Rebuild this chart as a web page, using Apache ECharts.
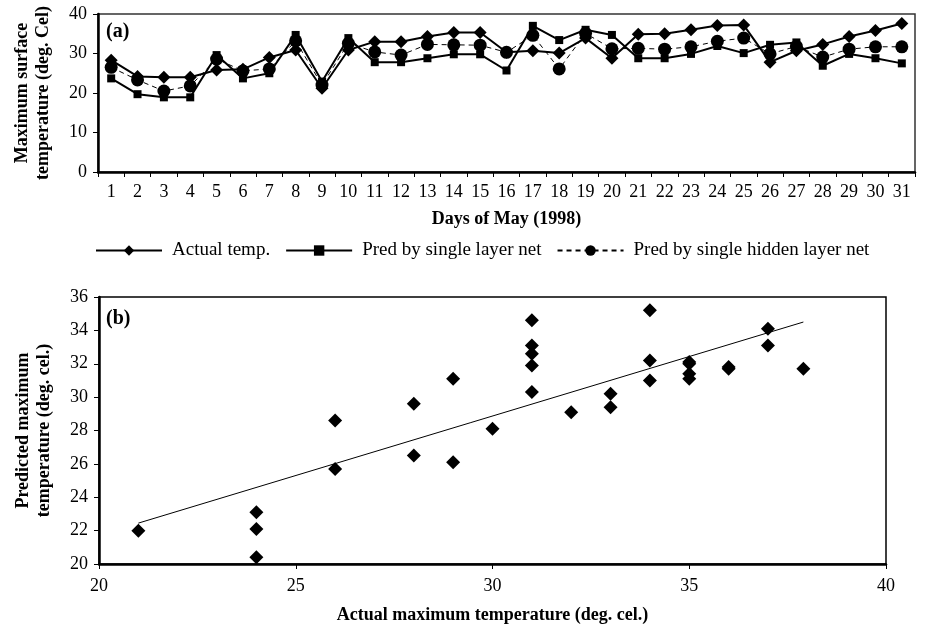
<!DOCTYPE html>
<html>
<head>
<meta charset="utf-8">
<script src="https://cdn.jsdelivr.net/npm/echarts@6/dist/echarts.min.js"></script>
<style>
  html, body { margin: 0; padding: 0; background: #fff; }
  #chart { width: 925px; height: 627px; }
</style>
</head>
<body>
<div id="chart"></div>
<script>
// Panel (a): daily maximum temperature, May 1998
const days = ['1','2','3','4','5','6','7','8','9','10','11','12','13','14','15','16',
  '17','18','19','20','21','22','23','24','25','26','27','28','29','30','31'];
const actualTemp = [28.3, 24.2, 24, 24, 25.8, 26, 29, 30.9, 21.2, 30.9, 33, 33, 34.3, 35.3, 35.3, 30.3,
  30.7, 30.1, 33.9, 28.8, 34.9, 35, 36, 37.1, 37.2, 27.8, 30.7, 32.3, 34.3, 35.8, 37.6];
const singleLayer = [23.7, 19.7, 18.9, 18.9, 29.6, 23.7, 25, 34.7, 22.9, 33.9, 27.8, 27.8, 28.8, 29.8, 29.8, 25.7,
  37, 33.4, 36, 34.7, 28.8, 28.8, 29.9, 31.9, 30.1, 32.2, 32.8, 26.9, 29.9, 28.8, 27.5];
const hiddenLayer = [26.5, 23.3, 20.5, 21.8, 28.6, 25.6, 26.1, 33.2, 22, 32.6, 30.4, 29.6, 32.3, 32.2, 32.1, 30.3,
  34.6, 26.1, 35.1, 31.2, 31.3, 31.1, 31.7, 33.1, 33.9, 29.9, 31.8, 29.1, 31.1, 31.7, 31.7];

// Panel (b): actual vs predicted scatter
const scatterActual = [21, 24, 24, 24, 26, 26, 28, 28, 29, 29, 30, 31, 31, 31, 31, 31,
  32, 33, 33, 34, 34, 34, 35, 35, 35, 35, 36, 36, 37, 37, 37.9];
const scatterPred = [22, 23.1, 22.1, 20.4, 28.6, 25.7, 29.6, 26.5, 31.1, 26.1, 28.1, 34.6, 33.1, 32.6, 31.9, 30.3,
  29.1, 30.2, 29.4, 35.2, 32.2, 31, 32.1, 32, 31.4, 31.1, 31.8, 31.7, 34.1, 33.1, 31.7];
const trendX = [21, 37.9];
const trendY = [22.45, 34.5];

const FONT = 'Liberation Serif';
const chart = echarts.init(document.getElementById('chart'));

const tickLabel = { color: '#000', fontFamily: FONT, fontSize: 18 };
const xNameStyle = { color: '#000', fontFamily: FONT, fontSize: 18, fontWeight: 'bold' };
const yNameStyle = { color: '#000', fontFamily: FONT, fontSize: 18, fontWeight: 'bold', lineHeight: 21 };

chart.setOption({
  animation: false,
  backgroundColor: '#fff',
  legend: {
    data: ['Actual temp.', 'Pred by single layer net', 'Pred by single hidden layer net'],
    left: 90,
    top: 236,
    itemWidth: 66,
    itemHeight: 13,
    itemGap: 15,
    textStyle: { color: '#000', fontFamily: FONT, fontSize: 19, padding: [0, 0, 0, 5] }
  },
  graphic: [
    { type: 'text', left: 106, top: 22, style: { text: '(a)', font: 'bold 20px ' + FONT, fill: '#000' } },
    { type: 'text', left: 106, top: 309, style: { text: '(b)', font: 'bold 20px ' + FONT, fill: '#000' } }
  ],
  grid: [
    { left: 98, right: 10, top: 14, height: 158, show: true, borderColor: '#333', borderWidth: 1.5 },
    { left: 99, right: 39, top: 297, height: 267, show: true, borderColor: '#000', borderWidth: 1.5 }
  ],
  xAxis: [
    {
      gridIndex: 0,
      type: 'category',
      data: days,
      boundaryGap: true,
      axisLine: { lineStyle: { color: '#000', width: 2.5 } },
      axisTick: { show: true, length: 5, lineStyle: { color: '#000' } },
      axisLabel: Object.assign({ margin: 11, interval: 0 }, tickLabel),
      name: 'Days of May (1998)',
      nameLocation: 'middle',
      nameGap: 38,
      nameTextStyle: xNameStyle
    },
    {
      gridIndex: 1,
      type: 'value',
      min: 20,
      max: 40,
      interval: 5,
      splitLine: { show: false },
      axisLine: { lineStyle: { color: '#000', width: 2.5 } },
      axisTick: { show: true, length: 5, lineStyle: { color: '#000' } },
      axisLabel: Object.assign({ margin: 13 }, tickLabel),
      name: 'Actual maximum temperature (deg. cel.)',
      nameLocation: 'middle',
      nameGap: 42,
      nameTextStyle: xNameStyle
    }
  ],
  yAxis: [
    {
      gridIndex: 0,
      type: 'value',
      min: 0,
      max: 40,
      interval: 10,
      splitLine: { show: false },
      axisLine: { show: true, lineStyle: { color: '#000', width: 2.5 } },
      axisTick: { show: true, length: 5, lineStyle: { color: '#000' } },
      axisLabel: Object.assign({ margin: 11 }, tickLabel),
      name: 'Maximum surface\ntemperature (deg. Cel)',
      nameLocation: 'middle',
      nameGap: 44,
      nameTextStyle: yNameStyle
    },
    {
      gridIndex: 1,
      type: 'value',
      min: 20,
      max: 36,
      interval: 2,
      splitLine: { show: false },
      axisLine: { show: true, lineStyle: { color: '#000', width: 2.5 } },
      axisTick: { show: true, length: 5, lineStyle: { color: '#000' } },
      axisLabel: Object.assign({ margin: 11 }, tickLabel),
      name: 'Predicted maximum\ntemperature (deg. cel.)',
      nameLocation: 'middle',
      nameGap: 44,
      nameTextStyle: yNameStyle
    }
  ],
  series: [
    {
      name: 'Actual temp.',
      type: 'line',
      xAxisIndex: 0,
      yAxisIndex: 0,
      data: actualTemp,
      symbol: 'diamond',
      symbolSize: 13,
      itemStyle: { color: '#000' },
      lineStyle: { color: '#000', width: 2 }
    },
    {
      name: 'Pred by single layer net',
      type: 'line',
      xAxisIndex: 0,
      yAxisIndex: 0,
      data: singleLayer,
      symbol: 'rect',
      symbolSize: 8,
      itemStyle: { color: '#000' },
      lineStyle: { color: '#000', width: 2 }
    },
    {
      name: 'Pred by single hidden layer net',
      type: 'line',
      xAxisIndex: 0,
      yAxisIndex: 0,
      data: hiddenLayer,
      symbol: 'circle',
      symbolSize: 13,
      itemStyle: { color: '#000' },
      lineStyle: { color: '#000', width: 1, type: [5, 4] }
    },
    {
      name: 'scatter',
      type: 'scatter',
      xAxisIndex: 1,
      yAxisIndex: 1,
      data: scatterActual.map((x, i) => [x, scatterPred[i]]),
      symbol: 'diamond',
      symbolSize: 14,
      itemStyle: { color: '#000', opacity: 1 }
    },
    {
      name: 'trend',
      type: 'line',
      xAxisIndex: 1,
      yAxisIndex: 1,
      data: trendX.map((x, i) => [x, trendY[i]]),
      showSymbol: false,
      symbol: 'none',
      lineStyle: { color: '#000', width: 1 }
    }
  ]
});
</script>
</body>
</html>
